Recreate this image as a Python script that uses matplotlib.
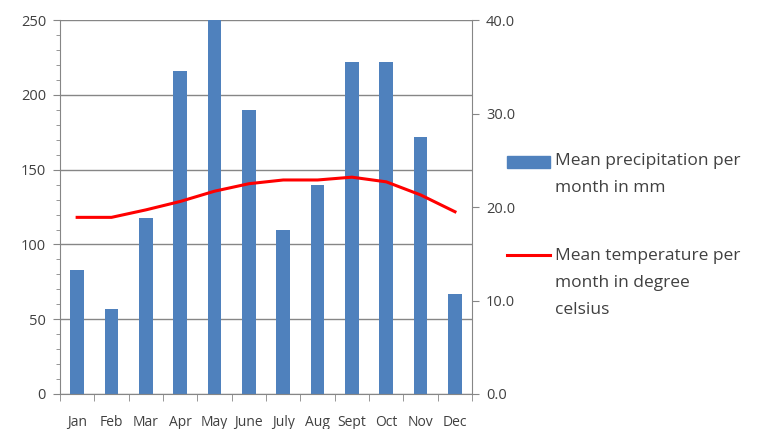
import numpy as np
import matplotlib.pyplot as plt
from matplotlib.patches import Rectangle
from matplotlib.lines import Line2D
from matplotlib.ticker import MultipleLocator, FormatStrFormatter

# Monthly climate data
months = ["Jan", "Feb", "Mar", "Apr", "May", "June", "July", "Aug", "Sept", "Oct", "Nov", "Dec"]
precip_mm = [83, 57, 118, 216, 250, 190, 110, 140, 222, 222, 172, 67]
temp_c = [18.9, 18.9, 19.7, 20.6, 21.7, 22.5, 22.9, 22.9, 23.2, 22.7, 21.3, 19.5]

plt.rcParams['font.family'] = ['Open Sans', 'DejaVu Sans']
txt = '#404040'
axis_col = '#868686'
bar_col = '#4F81BD'
line_col = '#FF0000'

fig = plt.figure(figsize=(7.64, 4.29), dpi=100)
ax = fig.add_axes([0.0785, 0.0816, 0.5395, 0.8714])
x = np.arange(len(months))

ax.bar(x, precip_mm, width=0.4, color=bar_col, zorder=2)
ax.set_xlim(-0.5, len(months) - 0.5)
ax.set_ylim(0, 250)
ax.yaxis.set_major_locator(MultipleLocator(50))
ax.yaxis.set_minor_locator(MultipleLocator(10))
ax.grid(axis='y', color=axis_col, linewidth=1, zorder=0)
ax.set_xticks(x)
ax.set_xticklabels(months)
ax.set_xticks(np.arange(-0.5, len(months)), minor=True)
ax.tick_params(axis='x', which='major', length=0, pad=15, labelsize=10, colors=txt)
ax.tick_params(axis='x', which='minor', length=5, color=axis_col, direction='out')
ax.tick_params(axis='y', which='major', length=5, color=axis_col, labelsize=10.5, colors=txt, pad=5)
ax.tick_params(axis='y', which='minor', length=3, color=axis_col)
for s in ['top', 'right']:
    ax.spines[s].set_visible(False)
for s in ['left', 'bottom']:
    ax.spines[s].set_color(axis_col)

ax2 = ax.twinx()
ax2.plot(x, temp_c, color=line_col, linewidth=2.2, solid_joinstyle='round')
ax2.set_ylim(0, 40)
ax2.yaxis.set_major_locator(MultipleLocator(10))
ax2.yaxis.set_major_formatter(FormatStrFormatter('%.1f'))
ax2.tick_params(axis='y', length=5, color=axis_col, labelsize=10.5, colors=txt, pad=5)
for s in ['top', 'left', 'bottom']:
    ax2.spines[s].set_visible(False)
ax2.spines['right'].set_color(axis_col)

# legend drawn by hand so the handles sit on the first text line
W, H = 764, 429
fig.add_artist(Rectangle((507 / W, 1 - 168 / H), 43 / W, 12 / H,
                         transform=fig.transFigure, color=bar_col))
fig.add_artist(Line2D([507 / W, 550 / W], [1 - 255 / H] * 2,
                      transform=fig.transFigure, color=line_col, linewidth=2.2))
fig.text(555 / W, 1 - 153 / H, 'Mean precipitation per\nmonth in mm',
         fontsize=12.5, color=txt, va='top', linespacing=1.9)
fig.text(555 / W, 1 - 248 / H, 'Mean temperature per\nmonth in degree\ncelsius',
         fontsize=12.5, color=txt, va='top', linespacing=1.9)

fig.savefig('out.png', dpi=100)
